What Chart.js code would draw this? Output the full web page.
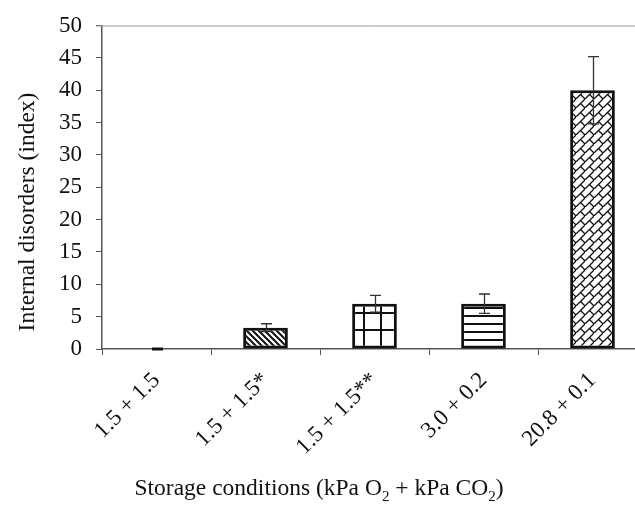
<!DOCTYPE html>
<html>
<head>
<meta charset="utf-8">
<script src="https://cdn.jsdelivr.net/npm/chart.js@4/dist/chart.umd.min.js"></script>
<style>
  html, body { margin: 0; padding: 0; background: #fff; overflow: hidden; }
  #wrap { width: 660px; height: 505px; }
</style>
</head>
<body>
<div id="wrap"><canvas id="chart" width="660" height="505"></canvas></div>
<script>
// data
const categories = ['1.5 + 1.5', '1.5 + 1.5*', '1.5 + 1.5**', '3.0 + 0.2', '20.8 + 0.1'];
const values = [0, 3.3, 7, 7, 40];
const errors = [0, 0.6, 1.3, 1.5, 5.2];
const yMin = 0, yMax = 50, yStep = 5;

const FONT = "'Liberation Serif', 'Times New Roman', serif";

// hatch patterns for each bar
function makePattern(size, draw) {
    const c = document.createElement('canvas');
    c.width = size; c.height = size;
    const g = c.getContext('2d');
    g.fillStyle = '#fff';
    g.fillRect(0, 0, size, size);
    g.strokeStyle = '#111';
    draw(g, size);
    return document.getElementById('chart').getContext('2d').createPattern(c, 'repeat');
}

const diagDense = makePattern(6, (g, s) => {
    g.lineWidth = 2;
    g.beginPath();
    g.moveTo(-1, -1); g.lineTo(s + 1, s + 1);
    g.moveTo(-1, s - 1); g.lineTo(1, s + 1);
    g.moveTo(s - 1, -1); g.lineTo(s + 1, 1);
    g.stroke();
});
const grid = makePattern(17, (g, s) => {
    g.lineWidth = 2;
    g.beginPath();
    g.moveTo(7, 0); g.lineTo(7, s);
    g.moveTo(0, 7); g.lineTo(s, 7);
    g.stroke();
});
const horiz = makePattern(8, (g, s) => {
    g.lineWidth = 2;
    g.beginPath();
    g.moveTo(0, 4); g.lineTo(s, 4);
    g.stroke();
});
const brick = makePattern(9, (g, s) => {
    g.lineWidth = 1.3;
    g.beginPath();
    g.moveTo(-1, s + 1); g.lineTo(s + 1, -1);
    g.moveTo(s / 2, s / 2); g.lineTo(s + 1, s + 1);
    g.stroke();
});
const fills = ['#fff', diagDense, grid, horiz, brick];

// error bars with caps
const errorBars = {
    id: 'errorBars',
    afterDatasetsDraw(chart) {
        const ctx = chart.ctx;
        const y = chart.scales.y;
        const meta = chart.getDatasetMeta(0);
        meta.data.forEach((bar, i) => {
            const x = Math.round(bar.x) + 0.5;
            const top = y.getPixelForValue(values[i] + errors[i]);
            const bot = y.getPixelForValue(values[i] - errors[i]);
            ctx.save();
            ctx.strokeStyle = errors[i] === 0 ? '#111' : '#333';
            ctx.lineWidth = errors[i] === 0 ? 3 : 1.3;
            ctx.beginPath();
            ctx.moveTo(x, top); ctx.lineTo(x, bot);
            ctx.moveTo(x - 5.5, top); ctx.lineTo(x + 5.5, top);
            ctx.moveTo(x - 5.5, bot); ctx.lineTo(x + 5.5, bot);
            ctx.stroke();
            ctx.restore();
        });
    }
};

// top frame line, axis titles (x title has subscripts)
const frame = {
    id: 'frame',
    afterDraw(chart) {
        const ctx = chart.ctx;
        const a = chart.chartArea;
        ctx.save();
        ctx.strokeStyle = '#999';
        ctx.lineWidth = 1;
        ctx.beginPath();
        ctx.moveTo(a.left - 6, a.top + 0.5);
        ctx.lineTo(a.right, a.top + 0.5);
        ctx.stroke();

        const big = '23.5px ' + FONT, small = '15px ' + FONT;
        ctx.fillStyle = '#111';

        // y title
        ctx.save();
        ctx.translate(28, 212);
        ctx.rotate(-Math.PI / 2);
        ctx.font = big;
        ctx.textAlign = 'center';
        ctx.textBaseline = 'middle';
        ctx.fillText('Internal disorders (index)', 0, 0);
        ctx.restore();

        // x title
        const parts = [['Storage conditions (kPa O', 0], ['2', 1], [' + kPa CO', 0], ['2', 1], [')', 0]];
        let w = 0;
        parts.forEach(p => { ctx.font = p[1] ? small : big; w += ctx.measureText(p[0]).width; });
        let x = 319 - w / 2;
        const base = 495;
        ctx.textBaseline = 'alphabetic';
        ctx.textAlign = 'left';
        parts.forEach(p => {
            ctx.font = p[1] ? small : big;
            ctx.fillText(p[0], x, p[1] ? base + 6 : base);
            x += ctx.measureText(p[0]).width;
        });
        ctx.restore();
    }
};

new Chart(document.getElementById('chart'), {
    type: 'bar',
    data: {
        labels: categories,
        datasets: [{
            data: values,
            backgroundColor: fills,
            borderColor: '#111',
            borderWidth: 3,
            borderSkipped: false,
            categoryPercentage: 1,
            barPercentage: 0.41
        }]
    },
    options: {
        responsive: false,
        animation: false,
        layout: { padding: { top: 19, right: 13, left: 0, bottom: 0 } },
        plugins: { legend: { display: false }, tooltip: { enabled: false } },
        scales: {
            x: {
                grid: { display: true, drawOnChartArea: false, drawTicks: true, tickLength: 6, color: '#555', offset: true },
                border: { display: true, color: '#555', width: 1.5 },
                ticks: {
                    color: '#111', font: { family: FONT, size: 23 },
                    minRotation: 45, maxRotation: 45, padding: 12
                },
                afterFit(s) { s.height = 156; }
            },
            y: {
                min: yMin, max: yMax,
                grid: { display: true, drawOnChartArea: false, drawTicks: true, tickLength: 6, color: '#555' },
                border: { display: true, color: '#555', width: 1.5 },
                ticks: { stepSize: yStep, color: '#111', font: { family: FONT, size: 23, lineHeight: 1 }, padding: 14 },
                afterFit(s) { s.width = 102; }
            }
        }
    },
    plugins: [errorBars, frame]
});
</script>
</body>
</html>
